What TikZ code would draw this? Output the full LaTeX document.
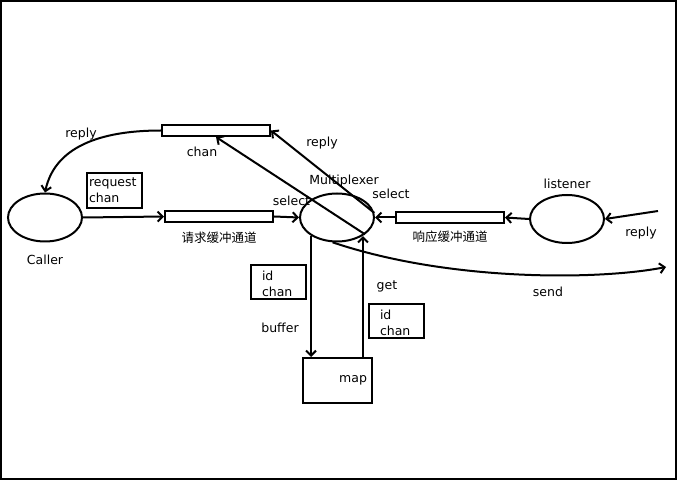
\documentclass[tikz,border=0pt]{standalone}
\usepackage{fontspec}
\setmainfont{DejaVu Sans}
\newfontfamily\cjk{Noto Sans CJK SC}
\usetikzlibrary{positioning, shapes.geometric, arrows.meta}

\begin{document}
\begin{tikzpicture}[x=1pt, y=-1pt, line width=2pt, font=\fontsize{12.5}{16}\selectfont,
        >={Straight Barb[length=5pt, width=10pt]},
        main/.style = {draw, ellipse, minimum width=74pt, minimum height=48pt, inner sep=0pt},
        pipe/.style = {draw, rectangle, minimum width=108pt, minimum height=11pt, inner sep=0pt},
        msg/.style = {draw, rectangle, align=left, text width=51pt, minimum height=34pt, inner xsep=2pt, inner ysep=1pt},
        idmsg/.style = {msg, text width=33pt, inner xsep=11pt},
        store/.style = {draw, rectangle, minimum width=69pt, minimum height=45pt, text width=59pt, align=right, inner xsep=5pt} ]
        \useasboundingbox (0,0) rectangle (678,481);
        \draw[line width=2.5pt] (1,1) rectangle (676,479);

        \node[main] (caller) at (45,217.5) {};
        \node[main] (mux) at (337,217.5) {};
        \node[main] (listener) at (567,219) {};
        \node[pipe] (req) at (219,216.5) {};
        \node[pipe] (resp) at (450,217.5) {};
        \node[pipe] (chan) at (216,130.5) {};
        \node[store] (map) at (337.5,380.5) {map};
        \node[msg, minimum height=35pt] (reqmsg) at (114.5,190.5) {request\\chan};
        \node[idmsg] (idbuf) at (278.5,282) {\rule{0pt}{13pt}id\\chan};
        \node[idmsg] (idget) at (396.5,321) {\rule{0pt}{13pt}id\\chan};
        \coordinate (replyin) at (658,211);
        \coordinate (sendout) at (666,267);
        \coordinate (bufin) at ([xshift=9pt]map.north west);
        \coordinate (getout) at ([xshift=-10pt]map.north east);

        \node (callerlabel) at (45,260) {Caller};
        \node (muxlabel) at (344,181) {Multiplexer};
        \node (listenerlabel) at (567,184) {listener};
        \node (reqlabel) at (219,238) {\cjk 请求缓冲通道};
        \node (resplabel) at (450,237) {\cjk 响应缓冲通道};
        \node (chanlabel) at (202,152) {chan};

        \draw[->] (caller.east) -- (req.west);
        \draw[->] (req.east) -- (mux.west) node [pos=0.7, above=7pt] {select};
        \draw[->] (resp.west) -- (mux.east) node [pos=0.2, above=14pt] {select};
        \draw[->] (listener.west) -- (resp.east);
        \draw[->] (replyin) -- (listener.east);
        \node at (641,233) {reply};
        \draw[->] (mux.-31) -- (chan.south);
        \draw[->] (mux.7) -- (chan.east);
        \node at (322,143) {reply};
        \draw[->] (chan.west) to[out=180, in=78] (caller.north);
        \node at (81,134) {reply};
        \draw[->] (mux.-100) .. controls (450,282) and (600,280) .. (sendout);
        \node at (548,292) {send};
        \draw[->] (bufin |- mux.-144) -- (bufin);
        \node at (280,328) {buffer};
        \draw[->] (getout) -- (getout |- mux.-36);
        \node at (387,286) {get};

    \end{tikzpicture}
\end{document}
